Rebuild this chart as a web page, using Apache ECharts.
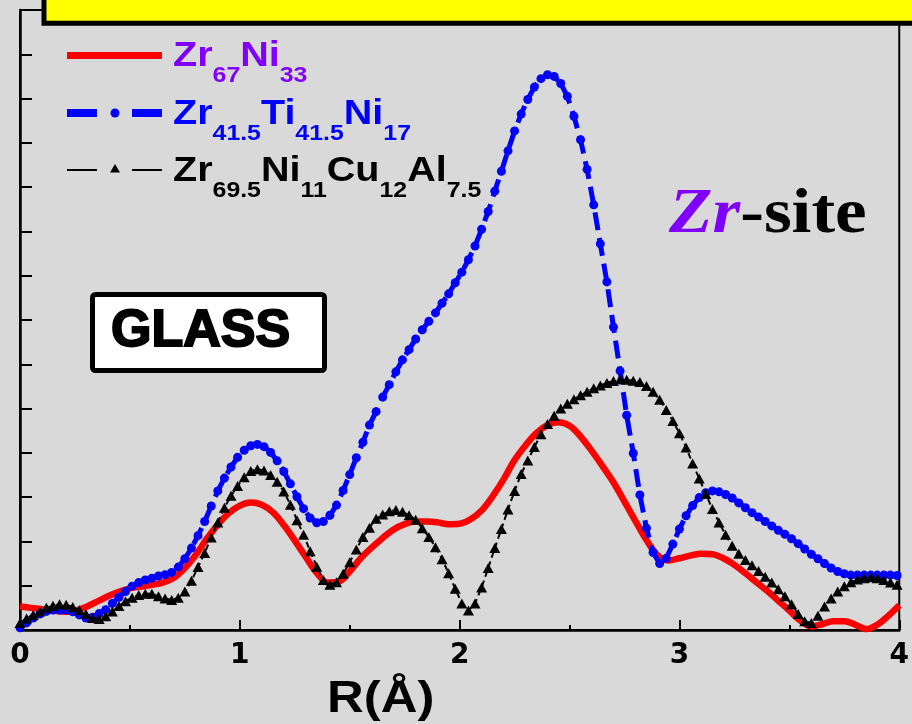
<!DOCTYPE html>
<html><head><meta charset="utf-8">
<script src="https://cdn.jsdelivr.net/npm/echarts@6/dist/echarts.min.js"></script>
<style>html,body{margin:0;padding:0;background:#d9d9d9}#c{width:912px;height:724px}</style>
</head><body><div id="c"></div>
<script>
// R grid (Å) for the marker series
const rGrid = [
0.00,0.03,0.06,0.09,0.12,0.15,0.18,0.21,0.24,0.27,
0.30,0.33,0.36,0.39,0.42,0.45,0.48,0.51,0.54,0.57,
0.60,0.63,0.66,0.69,0.72,0.75,0.78,0.81,0.84,0.87,
0.90,0.93,0.96,0.99,1.02,1.05,1.08,1.11,1.14,1.17,
1.20,1.23,1.26,1.29,1.32,1.35,1.38,1.41,1.44,1.47,
1.50,1.53,1.56,1.59,1.62,1.65,1.68,1.71,1.74,1.77,
1.80,1.83,1.86,1.89,1.92,1.95,1.98,2.01,2.04,2.07,
2.10,2.13,2.16,2.19,2.22,2.25,2.28,2.31,2.34,2.37,
2.40,2.43,2.46,2.49,2.52,2.55,2.58,2.61,2.64,2.67,
2.70,2.73,2.76,2.79,2.82,2.85,2.88,2.91,2.94,2.97,
3.00,3.03,3.06,3.09,3.12,3.15,3.18,3.21,3.24,3.27,
3.30,3.33,3.36,3.39,3.42,3.45,3.48,3.51,3.54,3.57,
3.60,3.63,3.66,3.69,3.72,3.75,3.78,3.81,3.84,3.87,
3.90,3.93,3.96,3.99];

// Zr41.5Ti41.5Ni17 (blue)
const zrTiNi = [
0.05,0.16,0.27,0.36,0.42,0.45,0.45,0.45,0.41,0.34,
0.27,0.29,0.37,0.46,0.60,0.74,0.87,0.99,1.07,1.13,
1.17,1.22,1.25,1.30,1.42,1.61,1.85,2.13,2.45,2.80,
3.14,3.43,3.68,3.90,4.06,4.16,4.19,4.14,4.01,3.82,
3.58,3.30,3.01,2.74,2.53,2.42,2.45,2.59,2.82,3.15,
3.51,3.89,4.24,4.63,4.93,5.26,5.54,5.83,6.10,6.33,
6.57,6.78,6.97,7.16,7.38,7.59,7.84,8.08,8.36,8.67,
9.05,9.45,9.91,10.36,10.82,11.27,11.65,11.98,12.26,12.45,
12.54,12.50,12.34,12.05,11.60,11.07,10.40,9.60,8.72,7.86,
6.84,5.85,4.85,3.99,3.05,2.30,1.75,1.50,1.62,1.94,
2.28,2.58,2.81,2.99,3.10,3.14,3.12,3.06,2.98,2.87,
2.76,2.65,2.55,2.45,2.35,2.25,2.16,2.06,1.95,1.83,
1.71,1.61,1.50,1.40,1.32,1.27,1.24,1.24,1.24,1.24,
1.24,1.24,1.24,1.23];

// Zr69.5Ni11Cu12Al7.5 (black triangles)
const zrNiCuAl = [
0.16,0.26,0.34,0.42,0.50,0.55,0.58,0.57,0.52,0.45,
0.36,0.27,0.25,0.31,0.42,0.54,0.65,0.73,0.79,0.82,
0.82,0.76,0.71,0.68,0.73,0.87,1.11,1.42,1.74,2.09,
2.43,2.76,3.03,3.25,3.45,3.59,3.63,3.60,3.50,3.35,
3.13,2.83,2.48,2.15,1.78,1.43,1.13,1.02,1.08,1.27,
1.53,1.82,2.10,2.31,2.51,2.61,2.68,2.71,2.67,2.59,
2.49,2.30,2.10,1.87,1.60,1.28,0.93,0.60,0.44,0.60,
0.96,1.40,1.85,2.28,2.72,3.14,3.52,3.83,4.13,4.42,
4.65,4.84,5.00,5.11,5.21,5.30,5.38,5.46,5.52,5.58,
5.62,5.66,5.65,5.63,5.60,5.51,5.38,5.20,4.97,4.72,
4.44,4.12,3.76,3.42,3.07,2.73,2.43,2.15,1.90,1.72,
1.58,1.46,1.33,1.20,1.07,0.92,0.76,0.58,0.36,0.20,
0.16,0.32,0.53,0.71,0.87,0.99,1.08,1.14,1.17,1.19,
1.17,1.13,1.07,1.02];

// R grid (Å) for the solid red curve
const rRed = [
0.00,0.05,0.10,0.15,0.20,0.25,0.30,0.35,0.40,0.45,
0.50,0.55,0.60,0.65,0.70,0.75,0.80,0.85,0.90,0.95,
1.00,1.05,1.10,1.15,1.20,1.25,1.30,1.35,1.40,1.45,
1.50,1.55,1.60,1.65,1.70,1.75,1.80,1.85,1.90,1.95,
2.00,2.05,2.10,2.15,2.20,2.25,2.30,2.35,2.40,2.45,
2.50,2.55,2.60,2.65,2.70,2.75,2.80,2.85,2.90,2.95,
3.00,3.05,3.10,3.15,3.20,3.25,3.30,3.35,3.40,3.45,
3.50,3.55,3.60,3.65,3.70,3.75,3.80,3.85,3.90,3.95,
4.00];

// Zr67Ni33 (red)
const zrNi = [
0.53,0.50,0.47,0.44,0.41,0.43,0.52,0.64,0.76,0.86,
0.94,0.98,1.02,1.07,1.18,1.40,1.70,2.06,2.38,2.64,
2.81,2.88,2.83,2.66,2.37,2.02,1.65,1.29,1.07,1.09,
1.32,1.62,1.86,2.08,2.27,2.39,2.45,2.45,2.43,2.39,
2.40,2.50,2.70,3.02,3.40,3.84,4.17,4.45,4.63,4.69,
4.61,4.37,4.05,3.70,3.33,2.90,2.46,2.03,1.69,1.57,
1.62,1.68,1.72,1.71,1.62,1.47,1.28,1.08,0.88,0.66,
0.44,0.21,0.08,0.13,0.20,0.20,0.12,0.02,0.12,0.32,
0.56];

const xLabelName = 'R(Å)';
const legendRows = [
  [['Zr',0],['67',1],['Ni',0],['33',1]],
  [['Zr',0],['41.5',1],['Ti',0],['41.5',1],['Ni',0],['17',1]],
  [['Zr',0],['69.5',1],['Ni',0],['11',1],['Cu',0],['12',1],['Al',0],['7.5',1]]
];
const legendColors = ['#8000ff', '#0000ff', '#000000'];
const boxText = 'GLASS';
const siteParts = ['Zr', '-site'];

const mctx = document.createElement('canvas').getContext('2d');
function mw(t, font) { mctx.font = font; return mctx.measureText(t).width; }

function fragGroup(frags, gx, scaleX) {
  let x = 0; const children = [];
  frags.forEach(f => {
    children.push({
      type: 'text', x: x, y: f.base - 0.3465 * f.size, z: 20,
      style: { text: f.t, font: f.font, fill: f.color,
        textAlign: 'left', textVerticalAlign: 'middle', align: 'left', verticalAlign: 'middle' }
    });
    x += mw(f.t, f.font);
  });
  return { type: 'group', x: gx, y: 0, scaleX: scaleX, scaleY: 1, z: 20, children };
}

const legBase = [68.3, 126.7, 183.3];
const graphics = [];
legendRows.forEach((row, i) => {
  const frags = row.map(([t, sub]) => {
    const size = sub ? 22 : 35;
    return { t, size, font: 'bold ' + size + 'px "Liberation Sans"',
      base: legBase[i] + (sub ? 15 : 0), color: legendColors[i] };
  });
  graphics.push(fragGroup(frags, 173, 1.13));
});

// legend line samples
graphics.push({ type: 'line', z: 20, shape: { x1: 67, y1: 55.5, x2: 162, y2: 55.5 }, style: { stroke: '#ff0000', lineWidth: 7 } });
graphics.push({ type: 'line', z: 20, shape: { x1: 67, y1: 113, x2: 97, y2: 113 }, style: { stroke: '#0000ff', lineWidth: 8 } });
graphics.push({ type: 'circle', z: 20, shape: { cx: 115, cy: 113, r: 4.5 }, style: { fill: '#0000ff' } });
graphics.push({ type: 'line', z: 20, shape: { x1: 132, y1: 113, x2: 162, y2: 113 }, style: { stroke: '#0000ff', lineWidth: 8 } });
graphics.push({ type: 'line', z: 20, shape: { x1: 67, y1: 170, x2: 97, y2: 170 }, style: { stroke: '#000', lineWidth: 2 } });
graphics.push({ type: 'polygon', z: 20, shape: { points: [[110, 172.5], [120, 172.5], [115, 164]] }, style: { fill: '#000' } });
graphics.push({ type: 'line', z: 20, shape: { x1: 132, y1: 170, x2: 162, y2: 170 }, style: { stroke: '#000', lineWidth: 2 } });

// yellow title box (cut off at top)
graphics.push({ type: 'rect', z: 30, shape: { x: 44, y: -30, width: 900, height: 53.3 }, style: { fill: '#ffff00', stroke: '#000', lineWidth: 5 } });

// GLASS box
graphics.push({ type: 'rect', z: 20, shape: { x: 92.5, y: 294.5, width: 232, height: 76, r: 3 }, style: { fill: '#ffffff', stroke: '#000', lineWidth: 5 } });
graphics.push({ type: 'text', z: 21, x: 111, y: 350 - 0.3465 * 52,
  style: { text: boxText, font: 'bold 52px "Liberation Sans"', fill: '#000', stroke: '#000', lineWidth: 2,
    textAlign: 'left', textVerticalAlign: 'middle', align: 'left', verticalAlign: 'middle' } });

// Zr-site
graphics.push(fragGroup([
  { t: siteParts[0], size: 63, font: 'italic bold 63px "Liberation Serif"', base: 238, color: '#8000ff' },
  { t: siteParts[1], size: 63, font: 'bold 63px "Liberation Serif"', base: 238, color: '#000' }
], 669, 1.13));

// axis title
graphics.push(fragGroup([
  { t: xLabelName, size: 45, font: 'bold 45px "Liberation Sans"', base: 715, color: '#000' }
], 327, 1.13));

const chart = echarts.init(document.getElementById('c'), null, { renderer: 'canvas' });
chart.setOption({
  backgroundColor: '#d9d9d9',
  animation: false,
  grid: { left: 20, right: 9, top: 10, bottom: 94, show: true, borderColor: '#000', borderWidth: 2, backgroundColor: 'transparent' },
  xAxis: {
    type: 'value', min: 0, max: 4, interval: 1,
    axisLine: { lineStyle: { color: '#000', width: 2.5 } },
    axisTick: { inside: true, length: 10, lineStyle: { color: '#000', width: 2 } },
    minorTick: { show: true, splitNumber: 2, length: 5, lineStyle: { color: '#000', width: 2 } },
    splitLine: { show: false }, minorSplitLine: { show: false },
    axisLabel: { color: '#000', fontSize: 28, fontWeight: 'bold', fontFamily: 'DejaVu Sans', margin: 12 }
  },
  yAxis: {
    type: 'value', min: 0, max: 14, interval: 1,
    axisLine: { show: true, lineStyle: { color: '#000', width: 2.5 } },
    axisTick: { show: true, inside: true, length: 12, lineStyle: { color: '#000', width: 2 } },
    axisLabel: { show: false }, splitLine: { show: false }
  },
  series: [
    { type: 'line', name: 'Zr67Ni33', data: rRed.map((r, i) => [r, zrNi[i]]), smooth: 0.35,
      symbol: 'none', showSymbol: false, lineStyle: { color: '#ff0000', width: 6.5 }, z: 2 },
    { type: 'line', name: 'Zr41.5Ti41.5Ni17', data: rGrid.map((r, i) => [r, zrTiNi[i]]),
      symbol: 'circle', symbolSize: 9, itemStyle: { color: '#0000ff' },
      lineStyle: { color: '#0000ff', width: 5, type: [18, 8] }, z: 3 },
    { type: 'line', name: 'Zr69.5Ni11Cu12Al7.5', data: rGrid.map((r, i) => [r, zrNiCuAl[i]]),
      symbol: 'triangle', symbolSize: [11, 10], itemStyle: { color: '#000' },
      lineStyle: { color: '#000', width: 2, type: [6, 4] }, z: 4 }
  ],
  graphic: graphics
});
</script>
</body></html>
